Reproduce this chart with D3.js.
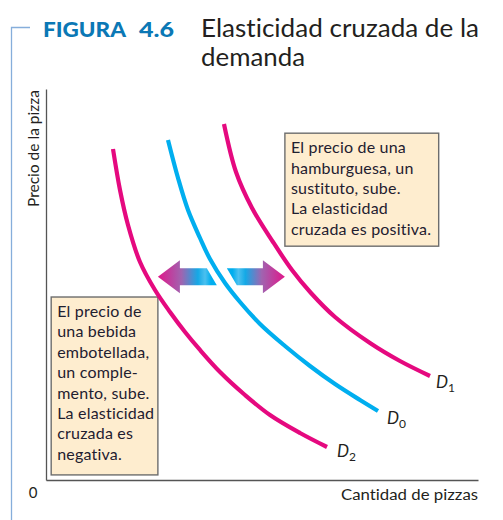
<!DOCTYPE html>
<html>
<head>
<meta charset="utf-8">
<script src="https://cdn.jsdelivr.net/npm/d3@7"></script>
<style>
  body { margin: 0; background: #fff; }
  svg { display: block; }
  text { font-family: Lato, "Open Sans", sans-serif; fill: #231f20; font-variant-ligatures: none; font-feature-settings: "liga" 0; }
</style>
</head>
<body>
<svg id="chart" width="503" height="520"></svg>
<script>
// ---- Data (axis units 0..100) ----
const titleWord = "FIGURA";
const titleNumber = "4.6";
const titleLines = ["Elasticidad cruzada de la", "demanda"];
const yAxisLabel = "Precio de la pizza";
const xAxisLabel = "Cantidad de pizzas";
const originLabel = "0";

const curveNames = ["D", "D", "D"];
const curveSubscripts = ["2", "0", "1"];
const d2X = [15.51, 17.13, 18.98, 21.76, 25.23, 28.70, 32.18, 35.65, 40.28, 46.06, 51.85, 58.80, 65.05];
const d2Y = [84.65, 74.17, 65.22, 55.75, 48.59, 42.97, 37.85, 33.25, 27.62, 21.74, 16.62, 12.02, 8.44];
const d0X = [28.24, 30.56, 32.87, 35.65, 37.96, 41.44, 44.91, 49.54, 55.32, 61.11, 66.90, 72.69, 76.85];
const d0Y = [86.96, 77.24, 69.05, 61.89, 56.52, 50.38, 45.52, 39.90, 34.27, 29.16, 24.55, 20.46, 17.65];
const d1X = [41.20, 43.98, 47.69, 52.55, 56.94, 61.34, 66.90, 75.00, 81.94, 88.89];
const d1Y = [91.05, 78.77, 69.57, 60.87, 53.71, 47.83, 41.69, 35.04, 30.43, 26.60];

const arrowY = 52.0;
const arrowTips = [25.9, 55.3];
const arrowGap = 40.7;

const boxRightLines = ["El precio de una", "hamburguesa, un", "sustituto, sube.", "La elasticidad", "cruzada es positiva."];
const boxLeftLines = ["El precio de", "una bebida", "embotellada,", "un comple-", "mento, sube.", "La elasticidad", "cruzada es", "negativa."];
// box corners in axis units [x0, yTop, x1, yBottom]
const boxRight = [55.3, 88.7, 90.9, 59.8];
const boxLeft = [1.2, 46.8, 25.9, 1.3];

// ---- Drawing ----
const svg = d3.select("#chart");
const x = d3.scaleLinear().domain([0, 100]).range([46, 478]);
const y = d3.scaleLinear().domain([0, 100]).range([480, 89]);

const magenta = "#e5097f";
const blue = "#00aeef";

// frame line on the left
svg.append("path")
  .attr("d", "M30,27.5 H11.5 V520")
  .attr("fill", "none").attr("stroke", "#86aedb").attr("stroke-width", 1.3);

// title
svg.append("text").attr("x", 43).attr("y", 37)
  .attr("textLength", 83).attr("lengthAdjust", "spacingAndGlyphs")
  .style("font-size", "21.5px").style("font-weight", "900")
  .style("fill", "#0b78b5").text(titleWord);
svg.append("text").attr("x", 139).attr("y", 37)
  .attr("textLength", 35).attr("lengthAdjust", "spacingAndGlyphs")
  .style("font-size", "21.5px").style("font-weight", "900")
  .style("fill", "#0b78b5").text(titleNumber);
svg.append("text").attr("x", 201).attr("y", 37)
  .attr("textLength", 278).attr("lengthAdjust", "spacingAndGlyphs")
  .style("font-size", "24.5px").text(titleLines[0]);
svg.append("text").attr("x", 201).attr("y", 66)
  .attr("textLength", 104).attr("lengthAdjust", "spacingAndGlyphs")
  .style("font-size", "24.5px").text(titleLines[1]);

// axes
svg.append("g").attr("transform", `translate(0,${y(0)})`)
  .call(d3.axisBottom(x).ticks(0).tickSizeOuter(0))
  .call(g => g.select(".domain").attr("stroke", "#555").attr("stroke-width", 1.3));
svg.append("g").attr("transform", `translate(${x(0)},0)`)
  .call(d3.axisLeft(y).ticks(0).tickSizeOuter(0))
  .call(g => g.select(".domain").attr("stroke", "#555").attr("stroke-width", 1.3));

svg.append("text").attr("x", 33).attr("y", 498).attr("text-anchor", "middle")
  .style("font-size", "15px").text(originLabel);
svg.append("text").attr("x", 478).attr("y", 500).attr("text-anchor", "end")
  .attr("textLength", 137).attr("lengthAdjust", "spacingAndGlyphs")
  .style("font-size", "15.5px").text(xAxisLabel);
svg.append("text").attr("transform", `translate(38.5,${(90 + 207) / 2}) rotate(-90)`)
  .attr("text-anchor", "middle")
  .attr("textLength", 117).attr("lengthAdjust", "spacingAndGlyphs")
  .style("font-size", "15px").text(yAxisLabel);

// boxes
function drawBox(b, lines, textDx) {
  const x0 = x(b[0]), y0 = y(b[1]), x1 = x(b[2]), y1 = y(b[3]);
  svg.append("rect").attr("x", x0).attr("y", y0)
    .attr("width", x1 - x0).attr("height", y1 - y0)
    .attr("fill", "#feedcf").attr("stroke", "#6d6d6d").attr("stroke-width", 1.4);
  lines.forEach((t, i) => {
    svg.append("text").attr("x", x0 + textDx).attr("y", y0 + 20 + i * 20.4)
      .style("font-size", "16px").style("letter-spacing", "0.2px")
      .style("fill", "#1f2030").text(t);
  });
}
drawBox(boxRight, boxRightLines, 6);
drawBox(boxLeft, boxLeftLines, 6);

// arrows with gradient
const defs = svg.append("defs");
function grad(id, x1, x2) {
  const g = defs.append("linearGradient").attr("id", id)
    .attr("gradientUnits", "userSpaceOnUse")
    .attr("x1", x1).attr("x2", x2).attr("y1", 0).attr("y2", 0);
  g.append("stop").attr("offset", "0%").attr("stop-color", "#e0178a");
  g.append("stop").attr("offset", "40%").attr("stop-color", "#a064b0");
  g.append("stop").attr("offset", "68%").attr("stop-color", "#14a9e6");
  g.append("stop").attr("offset", "80%").attr("stop-color", "#4cc0ef");
  g.append("stop").attr("offset", "90%").attr("stop-color", "#00aeef");
  g.append("stop").attr("offset", "100%").attr("stop-color", "#00aeef");
}
const ay = y(arrowY);
const lt = x(arrowTips[0]), rt = x(arrowTips[1]), gc = x(arrowGap);
const headH = 16.5, shaftH = 8.5, headL = 22, slant = 5;
grad("gl", lt, gc - 5);
grad("gr", rt, gc + 5);
svg.append("path")
  .attr("d", `M${lt},${ay} L${lt + headL},${ay - headH} L${lt + headL},${ay - shaftH}
    L${gc - 15},${ay - shaftH} L${gc - 15 + 2 * slant},${ay + shaftH}
    L${lt + headL},${ay + shaftH} L${lt + headL},${ay + headH} Z`)
  .attr("fill", "url(#gl)");
svg.append("path")
  .attr("d", `M${rt},${ay} L${rt - headL},${ay - headH} L${rt - headL},${ay - shaftH}
    L${gc + 5},${ay - shaftH} L${gc + 5 + 2 * slant},${ay + shaftH}
    L${rt - headL},${ay + shaftH} L${rt - headL},${ay + headH} Z`)
  .attr("fill", "url(#gr)");

// demand curves
const line = d3.line().x(d => x(d[0])).y(d => y(d[1])).curve(d3.curveCatmullRom.alpha(0.5));
const curves = [
  { xs: d2X, ys: d2Y, color: magenta, dx: 10, dy: 10 },
  { xs: d0X, ys: d0Y, color: blue, dx: 9, dy: 13 },
  { xs: d1X, ys: d1Y, color: magenta, dx: 6, dy: 12 }
];
curves.forEach((c, i) => {
  const pts = c.xs.map((v, j) => [v, c.ys[j]]);
  svg.append("path").datum(pts).attr("d", line)
    .attr("fill", "none").attr("stroke", c.color).attr("stroke-width", 4.2);
  const last = pts[pts.length - 1];
  const t = svg.append("text").attr("x", x(last[0]) + c.dx).attr("y", y(last[1]) + c.dy)
    .style("font-size", "17px").style("font-style", "italic");
  t.append("tspan").text(curveNames[i]);
  t.append("tspan").attr("dy", 4).style("font-size", "12px").style("font-style", "normal")
    .text(curveSubscripts[i]);
});
</script>
</body>
</html>
